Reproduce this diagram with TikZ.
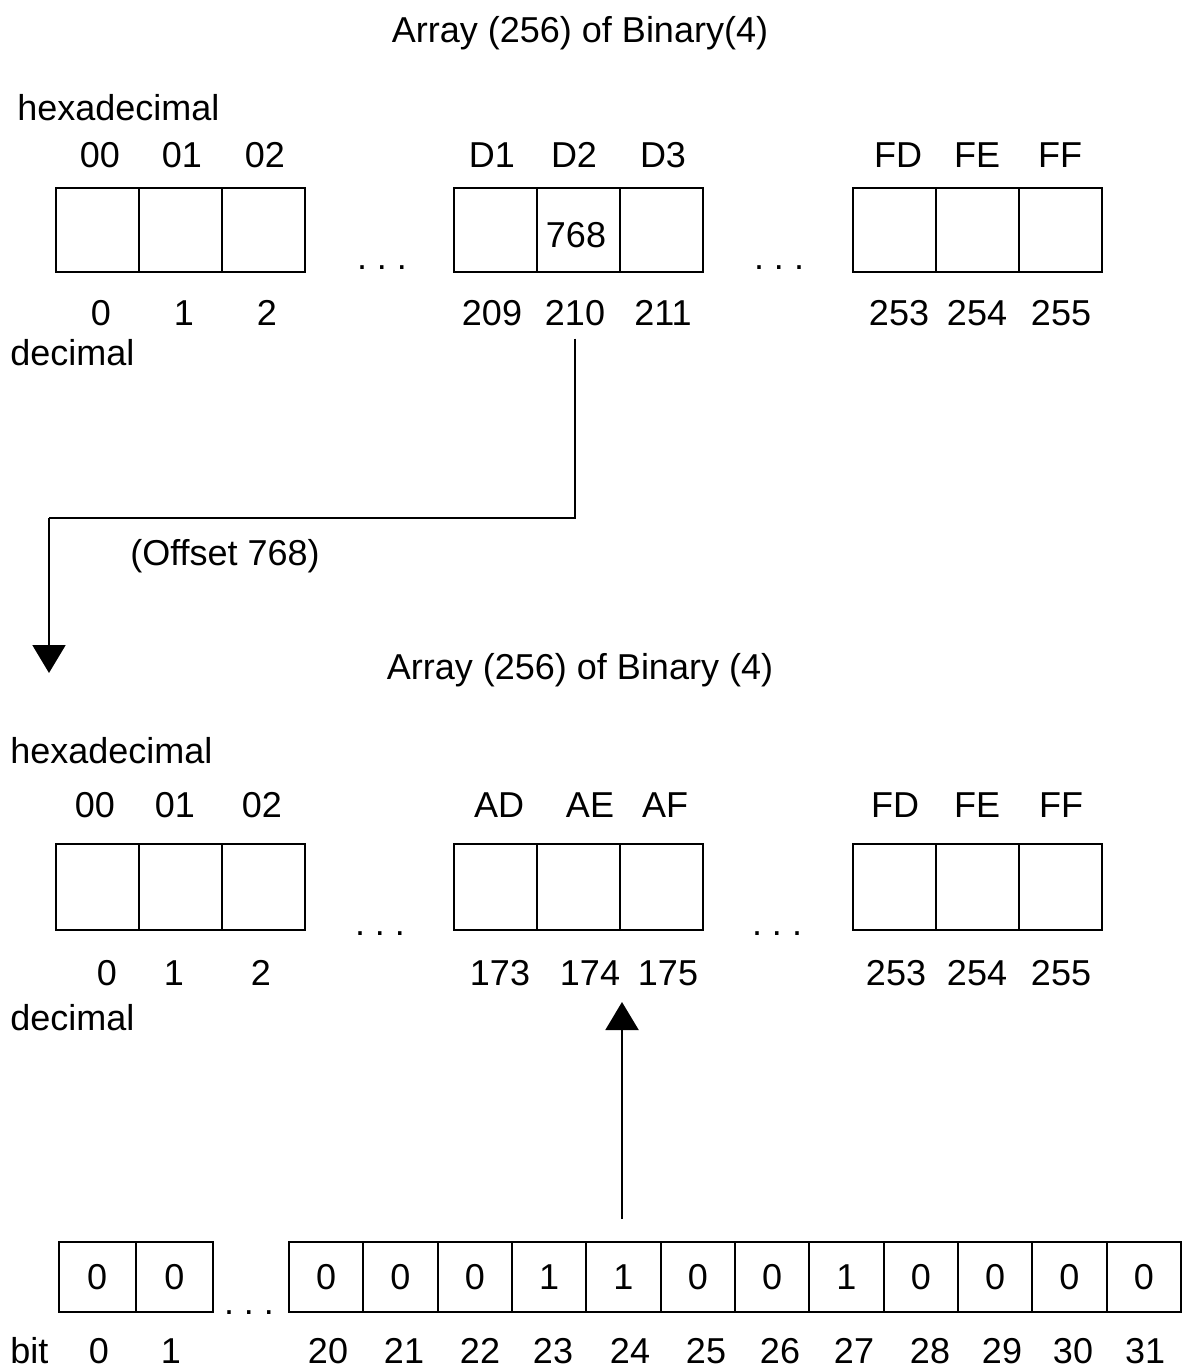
\documentclass[tikz,border=0pt]{standalone}
\usepackage{fontspec}
\setmainfont{Liberation Sans}
\usetikzlibrary{arrows.meta}
\begin{document}
\frenchspacing
\begin{tikzpicture}[x=0.5pt,y=-0.5pt,
  font=\fontsize{18pt}{21pt}\selectfont,
  cell/.style={draw,line width=1pt,inner sep=0pt,minimum width=41.5pt},
  bitcell/.style={draw,line width=1pt,inner sep=0pt,minimum width=37.15pt,minimum height=35pt},
  lbl/.style={anchor=base,inner sep=6pt},
  lft/.style={anchor=base west,inner sep=0pt},
  conn/.style={line width=1pt},
  tip/.style={-{Triangle[width=16.5pt,length=14pt]}}
]
\useasboundingbox (0,0) rectangle (1182,1368);

% ---------- top array ----------
\node[lbl] (title1) at (580,43) {Array (256) of Binary(4)};
\node[lft] (hex1) at (17,121) {hexadecimal};
\node[lft] (dec1) at (10,366) {decimal};
\foreach \i/\x in {1/97.5,2/180.5,3/263.5,4/495.5,5/578.5,6/661.5,7/894.5,8/977.5,9/1060.5}
  \node[cell,minimum height=42pt] (ta\i) at (\x,230) {};
\foreach \i/\x/\t in {1/100/00,2/182/01,3/265/02,4/492/D1,5/574/D2,6/663/D3,7/898/FD,8/977/FE,9/1060/FF}
  \node[lbl] (th\i) at (\x,168) {\t};
\foreach \i/\x/\t in {1/101/0,2/184/1,3/267/2,4/492/209,5/575/210,6/663/211,7/899/253,8/977/254,9/1061/255}
  \node[lbl] (td\i) at (\x,326) {\t};
\node[lbl] (val768) at (576,248) {768};
\node[lbl,inner sep=0pt] (dotsA1) at (382,270) {. . .};
\node[lbl,inner sep=0pt] (dotsA2) at (779,270) {. . .};

% ---------- connector with offset ----------
\coordinate (elbowA) at (49,518);
\coordinate (tipA) at (49,673);
\draw[conn] (td5.south) |- (elbowA);
\draw[conn,tip] (elbowA) -- (tipA);
\node[lbl,inner sep=0pt] (offset) at (225,565) {(Offset 768)};

% ---------- second array ----------
\node[lbl] (title2) at (580,679) {Array (256) of Binary (4)};
\node[lft] (hex2) at (10,763) {hexadecimal};
\node[lft] (dec2) at (10,1030) {decimal};
\foreach \i/\x in {1/97.5,2/180.5,3/263.5,4/495.5,5/578.5,6/661.5,7/894.5,8/977.5,9/1060.5}
  \node[cell,minimum height=43pt] (mb\i) at (\x,887) {};
\foreach \i/\x/\t in {1/95/00,2/175/01,3/262/02,4/499/AD,5/590/AE,6/665/AF,7/895/FD,8/977/FE,9/1061/FF}
  \node[lbl] (mh\i) at (\x,817) {\t};
\foreach \i/\x/\t in {1/107/0,2/174/1,3/261/2,4/500/173,5/590/174,6/668/175,7/896/253,8/977/254,9/1061/255}
  \node[lbl] (md\i) at (\x,985) {\t};
\node[lbl,inner sep=0pt] (dotsB1) at (380,935) {. . .};
\node[lbl,inner sep=0pt] (dotsB2) at (777,935) {. . .};

% ---------- bits ----------
\node[bitcell,minimum width=38.6pt] (bit0) at (97.1,1277) {0};
\node[bitcell,minimum width=38.6pt] (bit1) at (174.3,1277) {0};
\foreach \i/\v in {0/0,1/0,2/0,3/1,4/1,5/0,6/0,7/1,8/0,9/0,10/0,11/0}
  \node[bitcell] (bitb\i) at ({326.17+74.33*\i},1277) {\v};
\node[lbl,inner sep=0pt] (dotsC) at (249,1314) {. . .};
\node[lft] (bitlbl) at (10,1363) {bit};
\node[lbl] (bl0) at (99,1363) {0};
\node[lbl] (bl1) at (171,1363) {1};
\foreach \i/\x/\t in {0/328/20,1/404/21,2/480/22,3/553/23,4/630/24,5/706/25,6/780/26,7/854/27,8/930/28,9/1002/29,10/1073/30,11/1145/31}
  \node[lbl] (bn\i) at (\x,1363) {\t};

\coordinate (srcB) at (622,1219);
\coordinate (tipB) at (622,1002);
\draw[conn,tip] (srcB) -- (tipB);
\end{tikzpicture}
\end{document}
